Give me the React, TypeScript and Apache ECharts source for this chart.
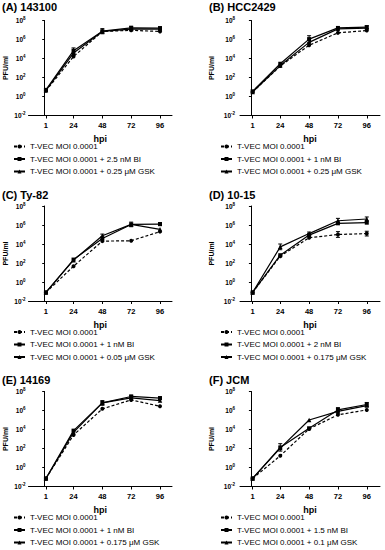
import React, { useEffect, useRef } from "react";
import * as echarts from "echarts";

// ---- data ----
const hpi = [1, 24, 48, 72, 96];
const yTicks = [0.01, 1, 100, 1e4, 1e6, 1e8];

const titles = ["(A) 143100", "(B) HCC2429", "(C) Ty-82", "(D) 10-15", "(E) 14169", "(F) JCM"];
const ctrlName = "T-VEC MOI 0.0001";
const biNames = [
  "T-VEC MOI 0.0001 + 2.5 nM BI",
  "T-VEC MOI 0.0001 + 1 nM BI",
  "T-VEC MOI 0.0001 + 1 nM BI",
  "T-VEC MOI 0.0001 + 2 nM BI",
  "T-VEC MOI 0.0001 + 1 nM BI",
  "T-VEC MOI 0.0001 + 1.5 nM BI",
];
const gskNames = [
  "T-VEC MOI 0.0001 + 0.25 μM GSK",
  "T-VEC MOI 0.0001 + 0.25 μM GSK",
  "T-VEC MOI 0.0001 + 0.05 μM GSK",
  "T-VEC MOI 0.0001 + 0.175 μM GSK",
  "T-VEC MOI 0.0001 + 0.175 μM GSK",
  "T-VEC MOI 0.0001 + 0.1 μM GSK",
];

// PFU/ml at 1, 24, 48, 72, 96 hpi
const A_ctrl = [4, 1.6e4, 7e6, 9.3e6, 7e6];
const A_bi = [5, 6.6e4, 7.5e6, 1.65e7, 1.55e7];
const A_gsk = [4.5, 3.7e4, 7e6, 1.25e7, 1.25e7];

const B_ctrl = [3, 1.6e3, 2.5e5, 5e6, 8.7e6];
const B_bi = [3.5, 2.8e3, 1.1e6, 1.65e7, 2e7];
const B_gsk = [3, 1.8e3, 5e5, 1.3e7, 1.6e7];

const C_ctrl = [0.08, 46, 2e4, 2.2e4, 2e5];
const C_bi = [0.08, 230, 3.8e4, 1.15e6, 1.25e6];
const C_gsk = [0.08, 200, 7.4e4, 1.15e6, 3.5e5];

const D_ctrl = [0.08, 525, 4.5e4, 1e5, 1.25e5];
const D_bi = [0.08, 660, 8.7e4, 1.5e6, 1.75e6];
const D_gsk = [0.08, 5e3, 1.25e5, 2.8e6, 4.3e6];

const E_ctrl = [0.07, 2.6e3, 1.5e6, 1.3e7, 2.8e6];
const E_bi = [0.07, 7.6e3, 6.3e6, 3e7, 2e7];
const E_gsk = [0.07, 5e3, 6.3e6, 2.1e7, 1.1e7];

const F_ctrl = [0.07, 17, 1.15e4, 3.5e5, 1.15e6];
const F_bi = [0.07, 130, 1.35e4, 1.15e6, 4.3e6];
const F_gsk = [0.07, 110, 1e5, 8e5, 3.3e6];

// error bars: [hpi, low, high]
const A_err = [[24, 3.3e4, 1.3e5], [48, 4e6, 1.4e7], [72, 1.1e7, 2.5e7], [96, 1.1e7, 2.2e7]];
const B_err = [[48, 5e5, 2.5e6], [96, 1.4e7, 2.8e7]];
const C_err = [[48, 5e4, 1.1e5], [72, 6.6e5, 2e6], [96, 8.6e5, 1.8e6]];
const D_err = [[24, 2.5e3, 1e4], [48, 8.7e4, 1.8e5], [72, 1.6e6, 5e6], [72, 5e4, 2e5], [96, 2.6e6, 7e6], [96, 7e4, 2.2e5]];
const E_err = [[48, 3.6e6, 1.1e7], [72, 2.2e7, 4e7], [96, 1.4e7, 2.8e7]];
const F_err = [[24, 53, 320], [72, 6.6e5, 2e6], [96, 2.6e6, 7e6]];

const ctrlSets = [A_ctrl, B_ctrl, C_ctrl, D_ctrl, E_ctrl, F_ctrl];
const biSets = [A_bi, B_bi, C_bi, D_bi, E_bi, F_bi];
const gskSets = [A_gsk, B_gsk, C_gsk, D_gsk, E_gsk, F_gsk];
const errSets = [A_err, B_err, C_err, D_err, E_err, F_err];

const FONT = 'Arial, "Liberation Sans", sans-serif';

export default function App() {
  const ref = useRef<HTMLDivElement>(null);
  useEffect(() => {
    if (!ref.current) return;
    const chart = echarts.init(ref.current, undefined, { renderer: "svg" });

    const rowTops = [20.5, 206, 391.5];
    const plotH = 95;
    const cols = [
      { left: 28.5, width: 143.5, min: -13.5, max: 106, nameGap: 20, labelMargin: 3, titleX: 2, legendX: 13 },
      { left: 240, width: 140, min: -9.5, max: 107, nameGap: 25, labelMargin: 5, titleX: 209, legendX: 220 },
    ];
    const titleTops = [1.5, 189, 374];

    const grid: any[] = [];
    const xAxis: any[] = [];
    const yAxis: any[] = [];
    const series: any[] = [];
    const legend: any[] = [];
    const title: any[] = [];

    for (let p = 0; p < 6; p++) {
      const r = Math.floor(p / 2);
      const c = cols[p % 2];
      const top = rowTops[r];
      grid.push({ left: c.left, top, width: c.width, height: plotH, containLabel: false });
      xAxis.push({
        type: "value",
        gridIndex: p,
        min: c.min,
        max: c.max,
        splitLine: { show: false },
        axisLine: { lineStyle: { color: "#000", width: 1 } },
        axisTick: { customValues: hpi, length: 3, lineStyle: { color: "#000" } },
        axisLabel: {
          customValues: hpi,
          margin: 6,
          fontSize: 7.5,
          fontWeight: "bold",
          color: "#000",
          fontFamily: FONT,
        },
        name: "hpi",
        nameLocation: "middle",
        nameGap: 19,
        nameTextStyle: { fontSize: 9, fontWeight: "bold", color: "#000", fontFamily: FONT },
      });
      yAxis.push({
        type: "log",
        logBase: 10,
        gridIndex: p,
        min: 0.01,
        max: 1e8,
        splitLine: { show: false },
        minorTick: { show: false },
        axisLine: { show: true, lineStyle: { color: "#000", width: 1 } },
        axisTick: { customValues: yTicks, length: 2.5, lineStyle: { color: "#000" } },
        axisLabel: {
          customValues: yTicks,
          margin: c.labelMargin,
          formatter: (v: number) => `{b|10}{s|${Math.round(Math.log10(v))}}`,
          rich: {
            b: { fontSize: 6.5, fontWeight: "bold", color: "#000", fontFamily: FONT, lineHeight: 9 },
            s: { fontSize: 4.5, fontWeight: "bold", color: "#000", fontFamily: FONT, lineHeight: 5, verticalAlign: "top" },
          },
        },
        name: "PFU/ml",
        nameLocation: "middle",
        nameGap: c.nameGap,
        nameTextStyle: { fontSize: 7, fontWeight: "bold", color: "#000", fontFamily: FONT },
      });

      const mk = (name: string, vals: number[], symbol: string, dashed: boolean, size: number) => ({
        type: "line",
        name,
        xAxisIndex: p,
        yAxisIndex: p,
        data: hpi.map((h, i) => [h, vals[i]]),
        symbol,
        symbolSize: size,
        showSymbol: true,
        lineStyle: { color: "#000", width: 1.2, type: dashed ? [3, 2] : "solid" },
        itemStyle: { color: "#000" },
        z: 3,
      });
      series.push(mk(ctrlName, ctrlSets[p], "circle", true, 4));
      series.push(mk(biNames[p], biSets[p], "rect", false, 4));
      series.push(mk(gskNames[p], gskSets[p], "triangle", false, 4.5));
      series.push({
        type: "custom",
        name: "err" + p,
        xAxisIndex: p,
        yAxisIndex: p,
        data: errSets[p],
        encode: { x: 0, y: [1, 2] },
        z: 4,
        renderItem: (params: any, api: any) => {
          const x = api.value(0);
          const lo = api.coord([x, api.value(1)]);
          const hi = api.coord([x, api.value(2)]);
          const w = 2;
          const st = { stroke: "#000", lineWidth: 1 };
          return {
            type: "group",
            children: [
              { type: "line", shape: { x1: hi[0], y1: hi[1], x2: lo[0], y2: lo[1] }, style: st },
              { type: "line", shape: { x1: hi[0] - w, y1: hi[1], x2: hi[0] + w, y2: hi[1] }, style: st },
              { type: "line", shape: { x1: lo[0] - w, y1: lo[1], x2: lo[0] + w, y2: lo[1] }, style: st },
            ],
          };
        },
      });

      legend.push({
        orient: "vertical",
        left: c.legendX,
        top: top + plotH + 26,
        padding: 0,
        itemGap: 2.5,
        itemWidth: 11,
        itemHeight: 5,
        selectedMode: false,
        data: [ctrlName, biNames[p], gskNames[p]],
        textStyle: { fontSize: 8, color: "#000", fontFamily: FONT, lineHeight: 10 },
      });

      title.push({
        text: titles[p],
        left: c.titleX,
        top: titleTops[r],
        padding: 0,
        textStyle: { fontSize: 11, fontWeight: "bold", color: "#000", fontFamily: FONT },
      });
    }

    chart.setOption({
      animation: false,
      backgroundColor: "#fff",
      title,
      grid,
      xAxis,
      yAxis,
      series,
      legend,
    });
    return () => chart.dispose();
  }, []);

  return (
    <div
      ref={ref}
      style={{ position: "fixed", left: 0, top: 0, width: 385, height: 550, background: "#fff" }}
    />
  );
}
